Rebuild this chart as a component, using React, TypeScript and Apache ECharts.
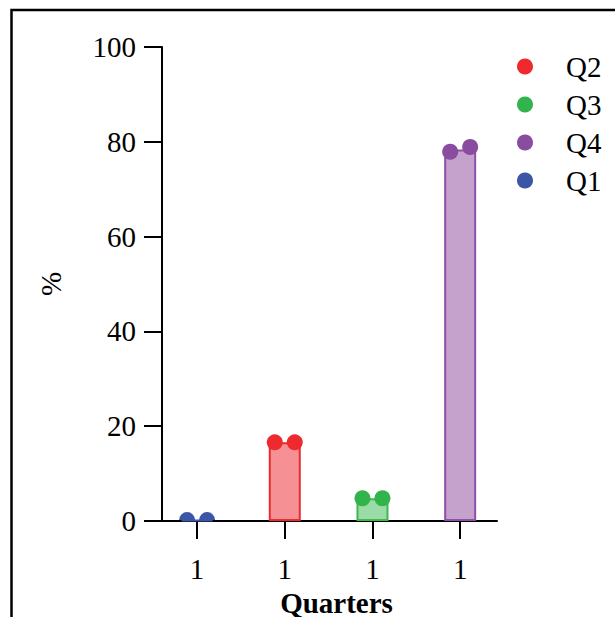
import React, { useEffect, useRef } from "react";
import * as echarts from "echarts";

const quarters = ["Q1", "Q2", "Q3", "Q4"];
const positions = [1, 2, 3, 4];
const tickLabels = ["1", "1", "1", "1"];
const legendOrder = ["Q2", "Q3", "Q4", "Q1"];
const barValues = [0.2, 16.6, 4.8, 78.4];
const q1Points = [0.2, 0.2];
const q2Points = [16.6, 16.6];
const q3Points = [4.8, 4.8];
const q4Points = [77.9, 78.9];
const yTicks = [0, 20, 40, 60, 80, 100];

const dotColors = ["#3b56a6", "#ee2a2e", "#31b44b", "#8a4c9e"];
const fillColors = ["#9dabd3", "#f59194", "#9bdba7", "#c5a2cc"];
const strokeColors = ["#3b56a6", "#ee2a2e", "#3fb850", "#8d51a8"];

const FONT = "'Liberation Serif', 'Times New Roman', serif";
const FS = 29;

export default function App() {
  const ref = useRef<HTMLDivElement>(null);
  useEffect(() => {
    if (!ref.current) return;
    const chart = echarts.init(ref.current, null, { renderer: "svg" });
    const pointsByQ = [q1Points, q2Points, q3Points, q4Points];
    const offsets = [-10, 10];
    const scatterSeries = quarters.map((q, qi) => ({
      type: "scatter",
      name: q,
      z: 5,
      symbol: qi === 0 ? "path://M0,8 A8,8 0 0 1 16,8 Z" : "circle",
      symbolSize: qi === 0 ? [16, 8] : 16,
      itemStyle: { color: dotColors[qi], opacity: 1 },
      data: pointsByQ[qi].map((v, k) => ({
        value: [positions[qi], v],
        symbolOffset: qi === 0 ? [offsets[k], -4] : [offsets[k], 0],
      })),
    }));
    chart.setOption({
      animation: false,
      backgroundColor: "#ffffff",
      grid: { left: 162, right: 118, top: 47, bottom: 96, outerBoundsMode: "none", containLabel: false },
      xAxis: {
        type: "value",
        min: 0.6,
        max: 4.42,
        name: "Quarters",
        nameLocation: "middle",
        nameGap: 67,
        nameTextStyle: { fontFamily: FONT, fontSize: FS, fontWeight: "bold", color: "#000", padding: [0, 0, 0, 14] },
        splitLine: { show: false },
        axisLine: { show: true, lineStyle: { color: "#000", width: 2 } },
        axisTick: { show: true, customValues: positions, length: 18, lineStyle: { color: "#000", width: 2 } },
        axisLabel: {
          customValues: positions,
          margin: 33,
          fontFamily: FONT,
          fontSize: FS,
          color: "#000",
          formatter: (v: number) => tickLabels[Math.round(v) - 1] ?? "",
        },
      },
      yAxis: {
        type: "value",
        min: 0,
        max: 100,
        interval: 20,
        name: "%",
        nameLocation: "middle",
        nameGap: 97,
        nameTextStyle: { fontFamily: FONT, fontSize: FS, color: "#000" },
        splitLine: { show: false },
        axisLine: { show: true, lineStyle: { color: "#000", width: 2 } },
        axisTick: { show: true, length: 18, lineStyle: { color: "#000", width: 2 } },
        axisLabel: {
          margin: 26,
          fontFamily: FONT,
          fontSize: FS,
          color: "#000",
          formatter: (v: number) => (yTicks.includes(v) ? String(v) : ""),
        },
      },
      legend: {
        data: legendOrder,
        orient: "vertical",
        left: 512,
        top: 47,
        icon: "circle",
        itemWidth: 16,
        itemHeight: 16,
        itemGap: 9,
        textStyle: { fontFamily: FONT, fontSize: FS, color: "#000", padding: [0, 0, 0, 28] },
      },
      graphic: [
        {
          type: "polyline",
          shape: { points: [[11.5, 617], [11.5, 10], [615, 10]] },
          style: { stroke: "#000", lineWidth: 2.5, fill: null },
          silent: true,
        },
      ],
      series: [
        {
          type: "bar",
          name: "mean",
          barWidth: 32,
          z: 2,
          data: barValues.map((v, i) => ({
            value: [positions[i], v],
            itemStyle: { color: fillColors[i], borderColor: strokeColors[i], borderWidth: 2 },
          })),
        },
        ...scatterSeries,
      ],
    });
    return () => chart.dispose();
  }, []);
  return (
    <div
      ref={ref}
      style={{ position: "absolute", left: 0, top: 0, width: 615, height: 617 }}
    />
  );
}
